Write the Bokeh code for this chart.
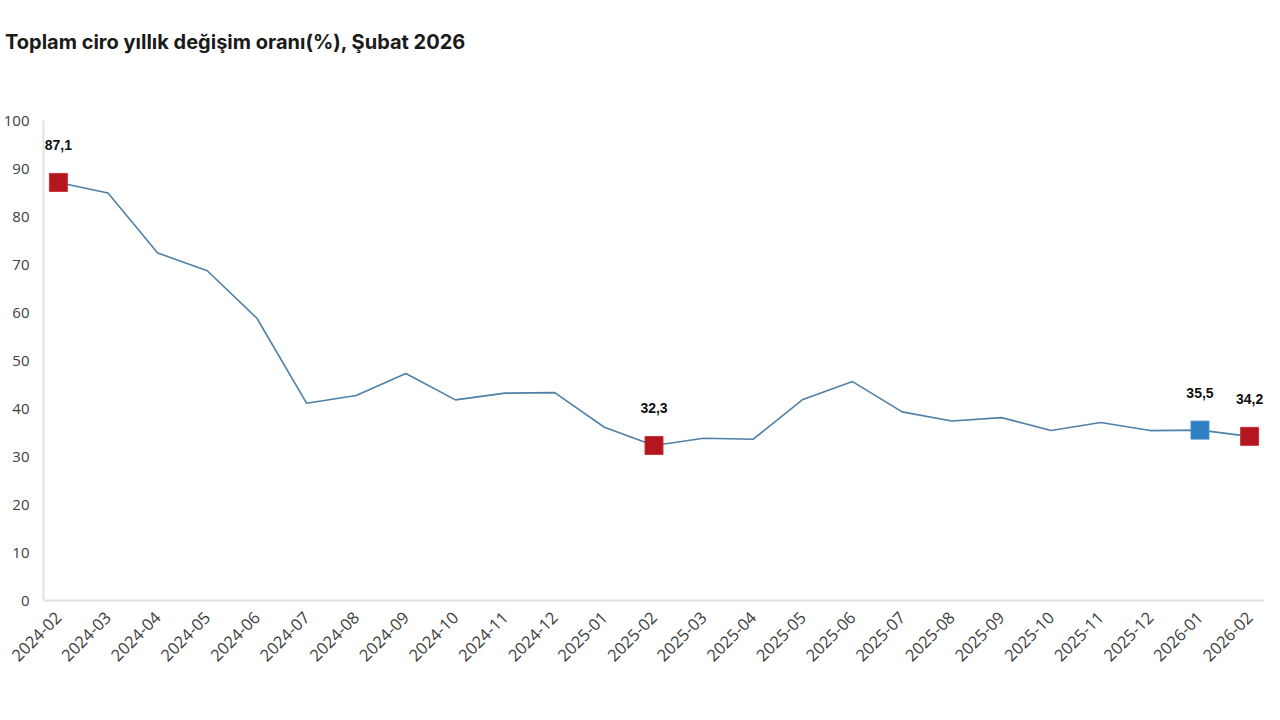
import math
from bokeh.plotting import figure
from bokeh.layouts import column
from bokeh.models import ColumnDataSource, FixedTicker, Range1d, Div
from bokeh.core.properties import value
from bokeh.embed import file_html
from bokeh.resources import INLINE

months = ["2024-02", "2024-03", "2024-04", "2024-05", "2024-06", "2024-07",
          "2024-08", "2024-09", "2024-10", "2024-11", "2024-12", "2025-01",
          "2025-02", "2025-03", "2025-04", "2025-05", "2025-06", "2025-07",
          "2025-08", "2025-09", "2025-10", "2025-11", "2025-12", "2026-01",
          "2026-02"]
values = [87.1, 84.9, 72.4, 68.7, 58.8, 41.1, 42.7, 47.3, 41.8, 43.2, 43.3,
          36.1, 32.3, 33.8, 33.6, 41.9, 45.6, 39.3, 37.4, 38.1, 35.4, 37.1,
          35.4, 35.5, 34.2]

red_months = ["2024-02", "2025-02", "2026-02"]
blue_months = ["2026-01"]
label_months = ["2024-02", "2025-02", "2026-01", "2026-02"]
label_texts = ["87,1", "32,3", "35,5", "34,2"]

y_ticks = [0, 10, 20, 30, 40, 50, 60, 70, 80, 90, 100]

title_text = "Toplam ciro yıllık değişim oranı(%), Şubat 2026"

xs = list(range(len(months)))
idx = {m: i for i, m in enumerate(months)}

line_src = ColumnDataSource(dict(x=xs, y=values))
red_src = ColumnDataSource(dict(x=[idx[m] for m in red_months],
                                y=[values[idx[m]] for m in red_months]))
blue_src = ColumnDataSource(dict(x=[idx[m] for m in blue_months],
                                 y=[values[idx[m]] for m in blue_months]))
lab_src = ColumnDataSource(dict(x=[idx[m] for m in label_months],
                                y=[values[idx[m]] for m in label_months],
                                t=label_texts))

title_div = Div(
    text=('<div style="padding-top:25px; font-family: Inter, sans-serif; '
          'font-weight:700; font-size:20px; line-height:24px; color:#1a1a1a; '
          'white-space:nowrap;">' + title_text + '</div>'),
    width=1264, height=60)

p = figure(width=1264, height=640, output_backend="svg", toolbar_location=None,
           x_range=Range1d(-0.3, len(months) - 1 + 0.3),
           y_range=Range1d(0, 100),
           min_border_top=50, min_border_bottom=110,
           min_border_left=20, min_border_right=0)

p.outline_line_color = None
p.xgrid.grid_line_color = None
p.ygrid.grid_line_color = None

p.line("x", "y", source=line_src, line_color="#4f80a8", line_width=1.6)
p.scatter("x", "y", source=red_src, marker="square", size=18,
          fill_color="#b3161e", line_color="#c9343a", line_width=1)
p.scatter("x", "y", source=blue_src, marker="square", size=18,
          fill_color="#2f80c2", line_color="#4a90c8", line_width=1)
p.text("x", "y", text="t", source=lab_src, y_offset=-37,
       text_align="center", text_baseline="middle",
       text_font=value("Liberation Sans"), text_font_style="bold",
       text_font_size="14px", text_color="#111111")

xa = p.xaxis[0]
xa.ticker = FixedTicker(ticks=xs)
xa.major_label_overrides = {i: m for i, m in enumerate(months)}
xa.major_label_orientation = math.pi / 4
xa.major_label_text_font = "Open Sans"
xa.major_label_text_font_size = "16.5px"
xa.major_label_text_color = "#404040"
xa.major_label_standoff = 8
xa.axis_line_color = "#e2e2e2"
xa.axis_line_width = 2
xa.major_tick_line_color = None
xa.minor_tick_line_color = None

ya = p.yaxis[0]
ya.ticker = FixedTicker(ticks=y_ticks)
ya.major_label_text_font = "Open Sans"
ya.major_label_text_font_size = "15px"
ya.major_label_text_color = "#404040"
ya.major_label_standoff = 8
ya.axis_line_color = "#e2e2e2"
ya.axis_line_width = 2
ya.major_tick_line_color = None
ya.minor_tick_line_color = None

layout = column(title_div, p, spacing=0)
open("out.html", "w").write(file_html(layout, INLINE))
